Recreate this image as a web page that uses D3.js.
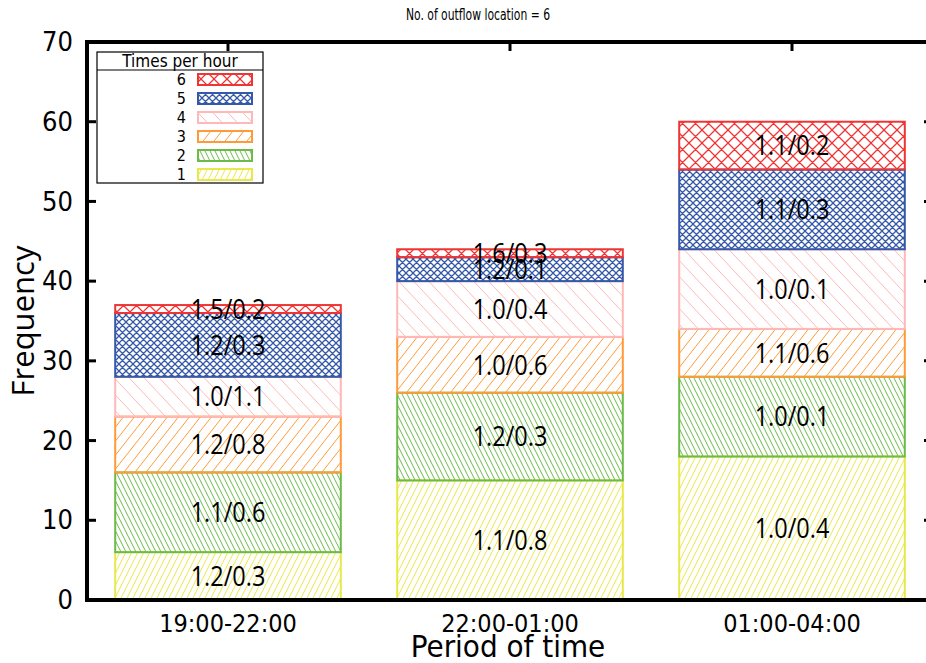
<!DOCTYPE html>
<html>
<head>
<meta charset="utf-8">
<script src="https://cdn.jsdelivr.net/npm/d3@7"></script>
<style>
  body { margin: 0; background: #fff; }
  svg { display: block; }
  .narrow { font-family: "Liberation Sans Narrow", "DejaVu Sans Condensed", sans-serif; }
  .open { font-family: "Open Sans", "Noto Sans", sans-serif; }
</style>
</head>
<body>
<div id="chart"></div>
<script>
// Data
const periods = ['19:00-22:00', '22:00-01:00', '01:00-04:00'];
const rates = ['1', '2', '3', '4', '5', '6'];
// frequency per rate (rows = rate 1..6, cols = period)
const freq1 = [6, 15, 18];
const freq2 = [10, 11, 10];
const freq3 = [7, 7, 6];
const freq4 = [5, 7, 10];
const freq5 = [8, 3, 10];
const freq6 = [1, 1, 6];
const labels1 = ['1.2/0.3', '1.1/0.8', '1.0/0.4'];
const labels2 = ['1.1/0.6', '1.2/0.3', '1.0/0.1'];
const labels3 = ['1.2/0.8', '1.0/0.6', '1.1/0.6'];
const labels4 = ['1.0/1.1', '1.0/0.4', '1.0/0.1'];
const labels5 = ['1.2/0.3', '1.2/0.1', '1.1/0.3'];
const labels6 = ['1.5/0.2', '1.6/0.3', '1.1/0.2'];
const yTicks = [0, 10, 20, 30, 40, 50, 60, 70];

const colors = ['#e8e84a', '#6cbb48', '#ff9a38', '#ffb8b8', '#3558a8', '#ee3535'];
// hatch style per rate: type, tile w, tile h
const hatch = [
  { type: 'fwd', w: 6, h: 12 },
  { type: 'back', w: 5, h: 10 },
  { type: 'fwd', w: 11, h: 14 },
  { type: 'back', w: 15, h: 16 },
  { type: 'cross', w: 7, h: 7 },
  { type: 'cross', w: 13, h: 13 }
];

const freqs = [freq1, freq2, freq3, freq4, freq5, freq6];
const labelSets = [labels1, labels2, labels3, labels4, labels5, labels6];

const width = 926, height = 663;
const margin = { left: 87, right: -7, top: 42, bottom: 63 };

const svg = d3.select('#chart').append('svg')
  .attr('width', width)
  .attr('height', height);

// Patterns
const defs = svg.append('defs');
hatch.forEach((h, i) => {
  const p = defs.append('pattern')
    .attr('id', 'hatch' + i)
    .attr('patternUnits', 'userSpaceOnUse')
    .attr('width', h.w)
    .attr('height', h.h);
  const w = h.w, hh = h.h;
  const fwd = [-w, 0, w].map(o => `M${o},${hh}L${o + w},0`).join('');
  const back = [-w, 0, w].map(o => `M${o},0L${o + w},${hh}`).join('');
  let d = h.type === 'fwd' ? fwd : h.type === 'back' ? back : fwd + back;
  p.append('path')
    .attr('d', d)
    .attr('stroke', colors[i])
    .attr('stroke-width', h.type === 'cross' ? 1.3 : 1)
    .attr('fill', 'none');
});

// Stack
const table = periods.map((p, j) => {
  const row = { period: p };
  rates.forEach((r, i) => { row[r] = freqs[i][j]; });
  return row;
});
const series = d3.stack().keys(rates)(table);

const x = d3.scaleBand()
  .domain(periods)
  .range([margin.left, width - margin.right])
  .paddingInner(0.2)
  .paddingOuter(0.1);

const y = d3.scaleLinear()
  .domain([0, 70])
  .range([height - margin.bottom, margin.top]);

// Bars
const layers = svg.append('g').selectAll('g')
  .data(series)
  .enter().append('g');

layers.selectAll('rect')
  .data(s => s.map(d => ({ d, i: series.indexOf(s) })))
  .enter().append('rect')
  .attr('x', o => x(o.d.data.period))
  .attr('y', o => y(o.d[1]))
  .attr('width', x.bandwidth())
  .attr('height', o => y(o.d[0]) - y(o.d[1]))
  .attr('fill', o => `url(#hatch${o.i})`)
  .attr('stroke', o => colors[o.i])
  .attr('stroke-width', 2);

// Segment labels
series.forEach((s, i) => {
  svg.append('g').selectAll('text')
    .data(s)
    .enter().append('text')
    .attr('class', 'open')
    .attr('transform', d => `translate(${x(d.data.period) + x.bandwidth() / 2},${y((d[0] + d[1]) / 2)}) scale(0.87,1)`)
    .attr('dy', '0.36em')
    .attr('text-anchor', 'middle')
    .attr('font-size', 27)
    .attr('fill', '#000')
    .text((d, j) => labelSets[i][j]);
});

// Axes frame
const x0 = margin.left, x1 = width - margin.right;
const yb = y(0), yt = y(70);

const leftAxis = d3.axisLeft(y).tickValues(yTicks).tickSize(0).tickPadding(14);
svg.append('g')
  .attr('transform', `translate(${x0},0)`)
  .call(leftAxis)
  .call(g => g.select('.domain').remove())
  .selectAll('text')
  .attr('class', 'narrow')
  .attr('font-size', 27)
  .attr('fill', '#000');

// inward ticks on left and right
const inner = yTicks.slice(1, -1);
svg.append('g').selectAll('line')
  .data(inner)
  .enter().append('line')
  .attr('x1', x0).attr('x2', x0 + 9)
  .attr('y1', d => y(d)).attr('y2', d => y(d))
  .attr('stroke', '#000').attr('stroke-width', 3);
svg.append('g').selectAll('line')
  .data(inner)
  .enter().append('line')
  .attr('x1', x1).attr('x2', x1 - 9)
  .attr('y1', d => y(d)).attr('y2', d => y(d))
  .attr('stroke', '#000').attr('stroke-width', 3);

// top ticks at bar centers
svg.append('g').selectAll('line')
  .data(periods)
  .enter().append('line')
  .attr('x1', d => x(d) + x.bandwidth() / 2)
  .attr('x2', d => x(d) + x.bandwidth() / 2)
  .attr('y1', yt).attr('y2', yt + 9)
  .attr('stroke', '#000').attr('stroke-width', 3);

const bottomAxis = d3.axisBottom(x).tickSize(0).tickPadding(14);
svg.append('g')
  .attr('transform', `translate(0,${yb})`)
  .call(bottomAxis)
  .call(g => g.select('.domain').remove())
  .selectAll('text')
  .attr('class', 'narrow')
  .attr('font-size', 25)
  .attr('fill', '#000');

svg.append('rect')
  .attr('x', x0).attr('y', yt)
  .attr('width', x1 - x0).attr('height', yb - yt)
  .attr('fill', 'none')
  .attr('stroke', '#000')
  .attr('stroke-width', 4);

// Axis titles
svg.append('text')
  .attr('class', 'narrow')
  .attr('x', (x0 + 933) / 2 - 2)
  .attr('y', 657)
  .attr('text-anchor', 'middle')
  .attr('font-size', 31)
  .text('Period of time');

svg.append('text')
  .attr('class', 'open')
  .attr('transform', `translate(34,${(yt + yb) / 2}) rotate(-90)`)
  .attr('text-anchor', 'middle')
  .attr('font-size', 31)
  .text('Frequency');

svg.append('text')
  .attr('class', 'narrow')
  .attr('transform', 'translate(478,20) scale(0.8,1)')
  .attr('text-anchor', 'middle')
  .attr('font-size', 15)
  .text('No. of outflow location = 6');

// Legend
const legend = svg.append('g').attr('transform', 'translate(97,52)');
legend.append('rect')
  .attr('width', 166).attr('height', 131)
  .attr('fill', '#fff').attr('stroke', '#000').attr('stroke-width', 1.2);
legend.append('line')
  .attr('x1', 0).attr('x2', 166).attr('y1', 18).attr('y2', 18)
  .attr('stroke', '#000').attr('stroke-width', 1.2);
legend.append('text')
  .attr('class', 'narrow')
  .attr('x', 83).attr('y', 14.5)
  .attr('text-anchor', 'middle')
  .attr('font-size', 17)
  .text('Times per hour');

const order = rates.map((r, i) => i).reverse();
const ly = d3.scalePoint().domain(order).range([27, 122]);
const items = legend.selectAll('.item')
  .data(order)
  .enter().append('g')
  .attr('class', 'item')
  .attr('transform', i => `translate(0,${ly(i)})`);
items.append('text')
  .attr('class', 'narrow')
  .attr('x', 89)
  .attr('dy', '0.36em')
  .attr('text-anchor', 'end')
  .attr('font-size', 16)
  .text(i => rates[i]);
items.append('rect')
  .attr('x', 101).attr('y', -5)
  .attr('width', 54).attr('height', 11)
  .attr('fill', i => `url(#hatch${i})`)
  .attr('stroke', i => colors[i])
  .attr('stroke-width', 2);
</script>
</body>
</html>
